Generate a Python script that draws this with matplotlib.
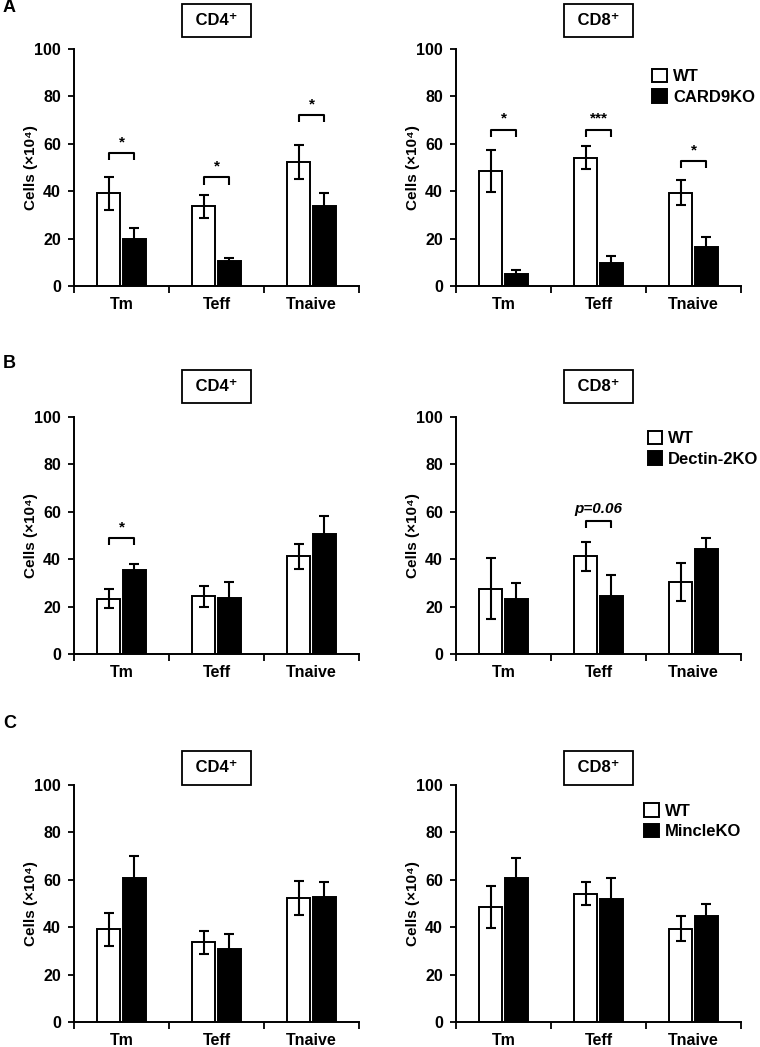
import matplotlib
matplotlib.use("Agg")
import matplotlib.pyplot as plt
from matplotlib.patches import Patch
import numpy as np

plt.rcParams['font.family'] = ['Liberation Sans', 'DejaVu Sans']
plt.rcParams['font.weight'] = 'bold'
plt.rcParams['axes.labelweight'] = 'bold'

cats = ['Tm', 'Teff', 'Tnaive']

# panel A - CARD9
a_cd4_wt = [39.2, 33.6, 52.3]
a_cd4_wt_err = [7.0, 4.8, 7.1]
a_cd4_ko = [20.0, 10.6, 33.6]
a_cd4_ko_err = [4.3, 1.1, 5.8]
a_cd4_sig_cats = [0, 1, 2]
a_cd4_sig_h = [56.0, 45.8, 72.0]
a_cd4_sig_txt = ['*', '*', '*']

a_cd8_wt = [48.4, 54.2, 39.3]
a_cd8_wt_err = [8.9, 4.7, 5.3]
a_cd8_ko = [5.1, 9.6, 16.4]
a_cd8_ko_err = [1.7, 3.1, 4.2]
a_cd8_sig_cats = [0, 1, 2]
a_cd8_sig_h = [66.0, 66.0, 52.8]
a_cd8_sig_txt = ['*', '***', '*']

# panel B - Dectin-2
b_cd4_wt = [23.3, 24.3, 41.2]
b_cd4_wt_err = [4.0, 4.6, 5.3]
b_cd4_ko = [35.5, 23.8, 50.8]
b_cd4_ko_err = [2.5, 6.6, 7.4]
b_cd4_sig_cats = [0]
b_cd4_sig_h = [49.0]
b_cd4_sig_txt = ['*']

b_cd8_wt = [27.6, 41.2, 30.4]
b_cd8_wt_err = [12.9, 6.1, 7.9]
b_cd8_ko = [23.2, 24.5, 44.4]
b_cd8_ko_err = [6.7, 9.0, 4.7]
b_cd8_sig_cats = [1]
b_cd8_sig_h = [56.2]
b_cd8_sig_txt = ['p=0.06']

# panel C - Mincle
c_cd4_wt = [39.2, 33.6, 52.3]
c_cd4_wt_err = [7.0, 4.8, 7.1]
c_cd4_ko = [60.9, 30.9, 52.9]
c_cd4_ko_err = [9.3, 6.3, 6.2]

c_cd8_wt = [48.4, 54.2, 39.3]
c_cd8_wt_err = [8.9, 4.7, 5.3]
c_cd8_ko = [60.6, 51.8, 44.9]
c_cd8_ko_err = [8.8, 8.9, 4.9]

W = 760
H = 1047
fig = plt.figure(figsize=(W / 100, H / 100), dpi=100)

bw = 0.24
off = 0.135


def panel(rect, wt, wt_err, ko, ko_err, title, title_y,
          sig_cats=(), sig_h=(), sig_txt=(), legend=None):
    ax = fig.add_axes(rect)
    x = np.arange(len(cats))
    ekw = dict(ecolor='black', elinewidth=1.5, capsize=3.3, capthick=1.5)
    ax.bar(x - off, wt, bw, yerr=wt_err, color='white', edgecolor='black',
           linewidth=1.4, error_kw=ekw, zorder=2)
    ax.bar(x + off, ko, bw, yerr=ko_err, color='black', edgecolor='black',
           linewidth=1.4, error_kw=ekw, zorder=2)

    for c, h, t in zip(sig_cats, sig_h, sig_txt):
        x0, x1 = c - off, c + off
        ax.plot([x0, x0, x1, x1], [h - 3, h, h, h - 3], color='black', lw=1.5,
                solid_capstyle='butt', zorder=3)
        if t.startswith('p'):
            ax.text(c, h + 2.2, t, ha='center', va='bottom', fontsize=11,
                    fontstyle='italic', fontweight='bold')
        else:
            ax.text(c, h + 1.6, t, ha='center', va='bottom', fontsize=11,
                    fontweight='bold')

    ax.set_xlim(-0.5, len(cats) - 0.5)
    ax.set_ylim(0, 100)
    ax.set_yticks(range(0, 101, 20))
    ax.set_xticks(x)
    ax.set_xticklabels(cats, fontsize=11.5, fontweight='bold')
    ax.set_xticks(np.arange(len(cats) + 1) - 0.5, minor=True)
    ax.tick_params(axis='x', which='major', length=0, pad=8)
    ax.tick_params(axis='x', which='minor', length=5, width=1.3, direction='out')
    ax.tick_params(axis='y', length=4.5, width=1.3, direction='out', pad=5,
                   labelsize=11.5)
    for lab in ax.get_yticklabels():
        lab.set_fontweight('bold')
    for s in ['top', 'right']:
        ax.spines[s].set_visible(False)
    for s in ['left', 'bottom']:
        ax.spines[s].set_linewidth(1.4)
    ax.set_ylabel('Cells (×10⁴)', fontsize=11, fontweight='bold')
    ax.yaxis.set_label_coords(-0.125, 0.5)

    ax.text(0.5, title_y, ' ' + title + ' ', transform=ax.transAxes,
            ha='center', va='center', fontsize=12, fontweight='bold',
            bbox=dict(boxstyle='square,pad=0.55', fc='white', ec='black', lw=1.3))

    if legend is not None:
        name, lx, ly = legend
        handles = [Patch(facecolor='white', edgecolor='black', linewidth=1.4),
                   Patch(facecolor='black', edgecolor='black', linewidth=1.4)]
        ax.legend(handles, ['WT', name], loc='upper left', bbox_to_anchor=(lx, ly),
                  frameon=False, prop=dict(size=12, weight='bold'),
                  handlelength=0.85, handleheight=0.85, handletextpad=0.4,
                  labelspacing=0.3, borderpad=0, borderaxespad=0)
    return ax


lx0 = 74 / W
rx0 = 456 / W
aw = 285 / W
ah = 237 / H

panel([lx0, 1 - 286 / H, aw, ah], a_cd4_wt, a_cd4_wt_err, a_cd4_ko, a_cd4_ko_err,
      'CD4⁺', 1.119, a_cd4_sig_cats, a_cd4_sig_h, a_cd4_sig_txt)
panel([rx0, 1 - 286 / H, aw, ah], a_cd8_wt, a_cd8_wt_err, a_cd8_ko, a_cd8_ko_err,
      'CD8⁺', 1.119, a_cd8_sig_cats, a_cd8_sig_h, a_cd8_sig_txt,
      legend=('CARD9KO', 0.689, 0.916))

panel([lx0, 1 - 654 / H, aw, ah], b_cd4_wt, b_cd4_wt_err, b_cd4_ko, b_cd4_ko_err,
      'CD4⁺', 1.129, b_cd4_sig_cats, b_cd4_sig_h, b_cd4_sig_txt)
panel([rx0, 1 - 654 / H, aw, ah], b_cd8_wt, b_cd8_wt_err, b_cd8_ko, b_cd8_ko_err,
      'CD8⁺', 1.129, b_cd8_sig_cats, b_cd8_sig_h, b_cd8_sig_txt,
      legend=('Dectin-2KO', 0.672, 0.941))

panel([lx0, 1 - 1022 / H, aw, ah], c_cd4_wt, c_cd4_wt_err, c_cd4_ko, c_cd4_ko_err,
      'CD4⁺', 1.072)
panel([rx0, 1 - 1022 / H, aw, ah], c_cd8_wt, c_cd8_wt_err, c_cd8_ko, c_cd8_ko_err,
      'CD8⁺', 1.072, legend=('MincleKO', 0.661, 0.923))

for letter, yy in [('A', 1 - 8 / H), ('B', 1 - 363 / H), ('C', 1 - 724 / H)]:
    fig.text(0.004, yy, letter, ha='left', va='center', fontsize=13, fontweight='bold')

fig.savefig('out.png', dpi=100)
